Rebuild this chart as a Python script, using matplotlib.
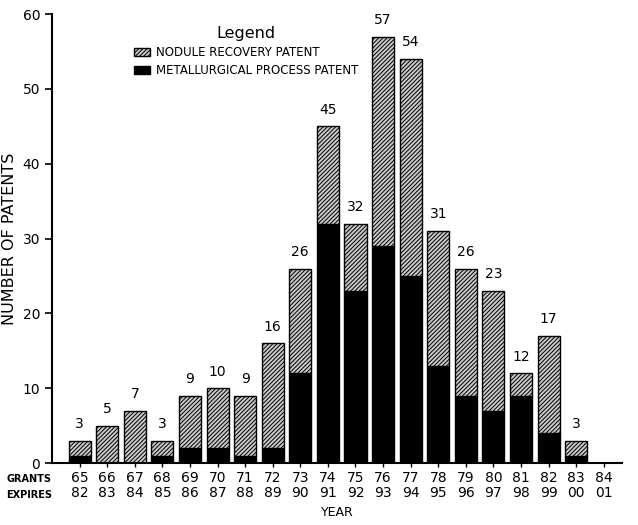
import matplotlib.pyplot as plt
import numpy as np

# grant years / expiry years
grants = ["65", "66", "67", "68", "69", "70", "71", "72", "73", "74",
          "75", "76", "77", "78", "79", "80", "81", "82", "83", "84"]
expires = ["82", "83", "84", "85", "86", "87", "88", "89", "90", "91",
           "92", "93", "94", "95", "96", "97", "98", "99", "00", "01"]
totals = [3, 5, 7, 3, 9, 10, 9, 16, 26, 45, 32, 57, 54, 31, 26, 23, 12, 17, 3, 0]
metallurgical = [1, 0, 0, 1, 2, 2, 1, 2, 12, 32, 23, 29, 25, 13, 9, 7, 9, 4, 1, 0]
nodule = [t - m for t, m in zip(totals, metallurgical)]

plt.rcParams['hatch.linewidth'] = 0.7

fig = plt.figure(figsize=(6.38, 5.25), dpi=100)
ax = fig.add_axes([0.0815, 0.118, 0.893, 0.855])

x = np.arange(len(grants))
ax.bar(x, metallurgical, width=0.8, color="black", edgecolor="black",
       label="METALLURGICAL PROCESS PATENT")
ax.bar(x, nodule, width=0.8, bottom=metallurgical, color="#c8c8c8",
       edgecolor="black", hatch="////////", linewidth=1.0,
       label="NODULE RECOVERY PATENT")

for xi, t in zip(x, totals):
    if t > 0:
        ax.text(xi, t + 1.3, str(t), ha="center", va="bottom", fontsize=10)

ax.set_xlim(-1.0, 19.65)
ax.set_ylim(0, 60)
ax.set_yticks(range(0, 61, 10))
ax.set_xticks(x)
ax.set_xticklabels([g + "\n" + e for g, e in zip(grants, expires)],
                   fontsize=10, linespacing=1.1)
ax.tick_params(axis="y", labelsize=10, length=5, width=1.2)
ax.tick_params(axis="x", length=3, width=1, pad=3)

ax.spines['right'].set_color('none')
ax.spines['top'].set_color('none')
ax.spines['left'].set_linewidth(1.5)
ax.spines['bottom'].set_linewidth(1.5)

ax.set_ylabel("NUMBER OF PATENTS", fontsize=11.5)
ax.yaxis.set_label_coords(-0.062, 0.5)
ax.set_xlabel("YEAR", fontsize=9, labelpad=4)

fig.text(0.01, 1 - 479 / 525, "GRANTS", fontsize=7, fontweight="bold", va="center")
fig.text(0.01, 1 - 495 / 525, "EXPIRES", fontsize=7, fontweight="bold", va="center")

h, l = ax.get_legend_handles_labels()
leg = ax.legend(h[::-1], l[::-1], title="Legend", loc="upper left",
                bbox_to_anchor=(0.135, 0.985), frameon=False, fontsize=8.5,
                handlelength=1.4, handleheight=0.6, handletextpad=0.5,
                labelspacing=0.45, borderaxespad=0)
leg.get_title().set_fontsize(11.5)

fig.savefig("out.png", dpi=100)
